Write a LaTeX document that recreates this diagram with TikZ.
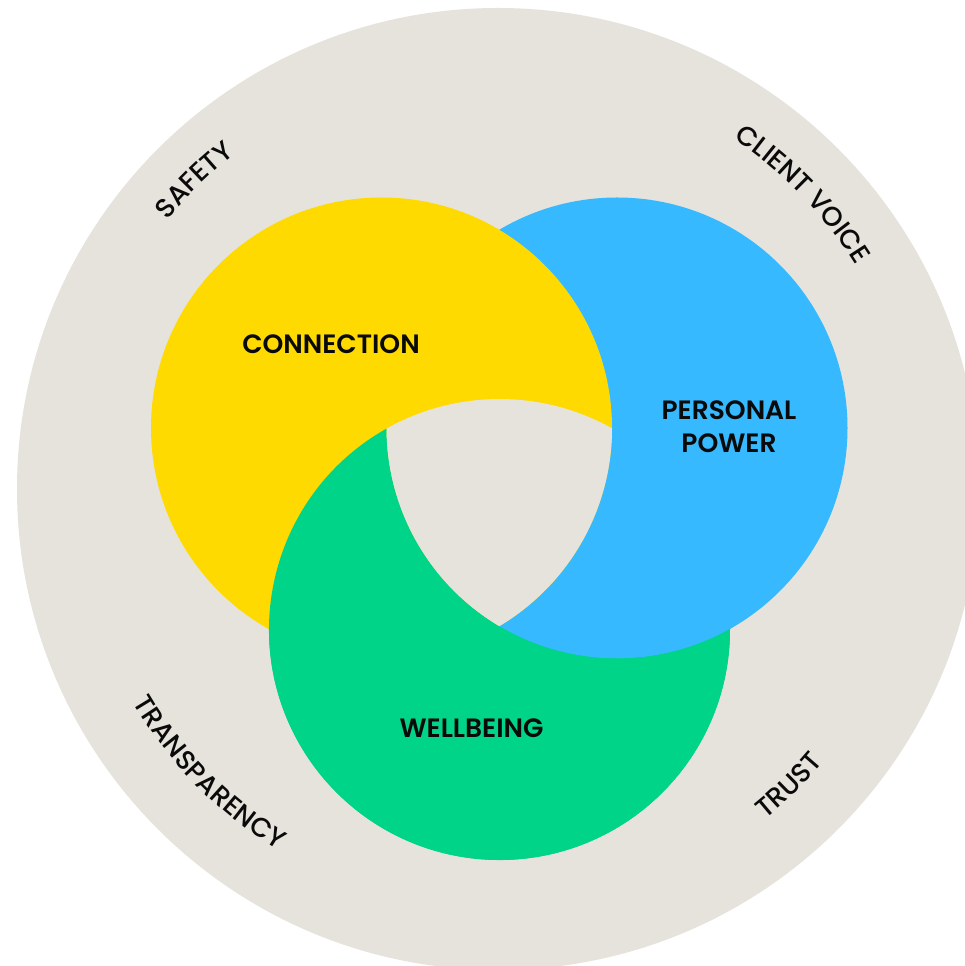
\documentclass[tikz,border=0pt]{standalone}
\usepackage{fontspec}
\setmainfont{Poppins}[BoldFont={Poppins SemiBold}]
\newfontfamily\medfont{Poppins Medium}
\usetikzlibrary{decorations.text,calc}
\definecolor{beige}{RGB}{230,227,220}
\definecolor{ycol}{RGB}{254,218,0}
\definecolor{bcol}{RGB}{54,185,255}
\definecolor{gcol}{RGB}{0,212,136}
\definecolor{ink}{RGB}{10,10,10}
\tikzset{
  inlab/.style={text=ink, font=\bfseries\fontsize{26.5}{33.5}\selectfont, align=center, inner sep=0pt},
  arclab/.style={decorate, decoration={text along path, text align=center,
      text={|\medfont\fontsize{27}{27}\selectfont\color{ink}|#1}}}
}
\begin{document}
\begin{tikzpicture}[x=1pt,y=1pt]
\useasboundingbox (0,0) rectangle (965,966);
\fill[white] (0,0) rectangle (965,966);
\coordinate (O) at (498,477);
\coordinate (Y) at (381.5,538);
\coordinate (B) at (617,538);
\coordinate (G) at (499.5,336.5);
\def\R{230.5}
\begin{scope}
  \clip (0,0) rectangle (965,966);
  \fill[beige] (O) circle (481);
\end{scope}
% full rings: green, then blue over green, then yellow over blue
\fill[gcol] (G) circle (\R);
\fill[bcol] (B) circle (\R);
\fill[ycol] (Y) circle (\R);
% green over yellow: the part of green outside blue
\fill[gcol] ($(G)+(119.36:\R)$) arc[start angle=119.36, end angle=360.15, radius=\R]
  -- ($(B)+(299.36:\R)$) arc[start angle=299.36, end angle=180.15, radius=\R] -- cycle;
% common centre
\fill[beige] ($(G)+(119.36:\R)$) arc[start angle=119.36, end angle=60.79, radius=\R]
  -- ($(Y)+(-0.07:\R)$) arc[start angle=-0.07, end angle=-59.28, radius=\R]
  -- ($(B)+(239.28:\R)$) arc[start angle=239.28, end angle=180.15, radius=\R] -- cycle;
% inner labels
\node[inlab] (conn) at (331,622) {CONNECTION};
\node[inlab] (pp) at (729,539.3) {PERSONAL\\POWER};
\node[inlab] (wb) at (471.5,238) {WELLBEING};
% outer labels along arcs
\path[arclab={SAFETY}] ($(O)+(164.5:426)$) arc[start angle=164.5, end angle=104.5, radius=426];
\path[arclab={CLIENT VOICE}] ($(O)+(80:422)$) arc[start angle=80, end angle=8, radius=422];
\path[arclab={TRANSPARENCY}] ($(O)+(188.5:423)$) arc[start angle=188.5, end angle=260.5, radius=423];
\path[arclab={TRUST}] ($(O)+(284.5:425)$) arc[start angle=284.5, end angle=344.5, radius=425];
\end{tikzpicture}
\end{document}
